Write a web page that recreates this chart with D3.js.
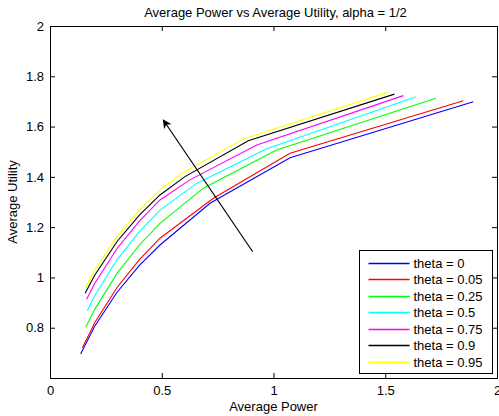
<!DOCTYPE html>
<html>
<head>
<meta charset="utf-8">
<script src="https://cdn.jsdelivr.net/npm/d3@7"></script>
<style>
  body { margin: 0; background: #fff; }
  text { font-family: "Liberation Sans", Arial, sans-serif; fill: #000; }
</style>
</head>
<body>
<div class="main"></div>
<script>
// data
var thetaLabels = ["theta = 0", "theta = 0.05", "theta = 0.25", "theta = 0.5", "theta = 0.75", "theta = 0.9", "theta = 0.95"];
var lineColors = ["#0000ff", "#ff0000", "#00ff00", "#00ffff", "#ff00ff", "#000000", "#ffff00"];

var powerTheta0    = [0.137, 0.2, 0.3, 0.4, 0.492, 0.716, 1.074, 1.894];
var utilityTheta0  = [0.695, 0.806, 0.941, 1.048, 1.129, 1.295, 1.476, 1.699];
var powerTheta005   = [0.145, 0.2, 0.3, 0.4, 0.492, 0.731, 1.074, 1.849];
var utilityTheta005 = [0.720, 0.820, 0.960, 1.071, 1.156, 1.315, 1.494, 1.703];
var powerTheta025   = [0.160, 0.2, 0.3, 0.4, 0.492, 0.686, 1.014, 1.727];
var utilityTheta025 = [0.802, 0.873, 1.016, 1.129, 1.215, 1.355, 1.507, 1.713];
var powerTheta05    = [0.167, 0.2, 0.3, 0.4, 0.492, 0.656, 0.970, 1.638];
var utilityTheta05  = [0.868, 0.927, 1.070, 1.182, 1.268, 1.374, 1.512, 1.719];
var powerTheta075   = [0.164, 0.2, 0.3, 0.4, 0.492, 0.626, 0.925, 1.581];
var utilityTheta075 = [0.913, 0.976, 1.115, 1.224, 1.308, 1.388, 1.527, 1.723];
var powerTheta09    = [0.157, 0.2, 0.3, 0.4, 0.492, 0.604, 0.887, 1.541];
var utilityTheta09  = [0.937, 1.009, 1.143, 1.248, 1.328, 1.401, 1.544, 1.729];
var powerTheta095   = [0.157, 0.2, 0.3, 0.4, 0.492, 0.596, 0.872, 1.514];
var utilityTheta095 = [0.957, 1.029, 1.163, 1.268, 1.348, 1.417, 1.553, 1.737];

var xTicks = [0, 0.5, 1, 1.5, 2];
var yTicks = [0.8, 1, 1.2, 1.4, 1.6, 1.8, 2];
var arrowFrom = [0.907, 1.102];
var arrowTo = [0.507, 1.626];

var powers = [powerTheta0, powerTheta005, powerTheta025, powerTheta05, powerTheta075, powerTheta09, powerTheta095];
var utilities = [utilityTheta0, utilityTheta005, utilityTheta025, utilityTheta05, utilityTheta075, utilityTheta09, utilityTheta095];

var series = thetaLabels.map(function(name, i) {
  return {
    name: name,
    color: lineColors[i],
    points: powers[i].map(function(p, j) { return [p, utilities[i][j]]; })
  };
});

var width = 499, height = 416;
var plotLeft = 50, plotRight = 497, plotTop = 26, plotBottom = 378;
var fontSize = "13px";

var svg = d3.select("div.main").append("svg")
  .attr("width", width)
  .attr("height", height);

var x = d3.scaleLinear().domain([0, 2]).range([plotLeft, plotRight]);
var y = d3.scaleLinear().domain([0.6, 2]).range([plotBottom, plotTop]);

// curves
var line = d3.line()
  .x(function(d) { return x(d[0]); })
  .y(function(d) { return y(d[1]); });

svg.append("g").selectAll("path")
  .data(series)
  .enter().append("path")
  .attr("d", function(d) { return line(d.points); })
  .attr("fill", "none")
  .attr("stroke", function(d) { return d.color; })
  .attr("stroke-width", 1.1);

// arrow
svg.append("defs").append("marker")
  .attr("id", "head")
  .attr("viewBox", "0 0 10 10")
  .attr("refX", 9).attr("refY", 5)
  .attr("markerWidth", 11).attr("markerHeight", 9)
  .attr("markerUnits", "userSpaceOnUse")
  .attr("orient", "auto")
  .append("path")
  .attr("d", "M0,0 L10,5 L0,10 L3,5 Z")
  .attr("fill", "#000");

svg.append("line")
  .attr("x1", x(arrowFrom[0])).attr("y1", y(arrowFrom[1]))
  .attr("x2", x(arrowTo[0])).attr("y2", y(arrowTo[1]))
  .attr("stroke", "#000")
  .attr("stroke-width", 1.2)
  .attr("marker-end", "url(#head)");

// axes (matlab style, ticks inside, box all round)
var xAxis = d3.axisBottom(x).tickValues(xTicks).tickSize(-5).tickPadding(8)
  .tickFormat(d3.format("~g"));
var yAxis = d3.axisLeft(y).tickValues(yTicks).tickSize(-5).tickPadding(6)
  .tickFormat(d3.format("~g"));

var gx = svg.append("g").attr("transform", "translate(0," + plotBottom + ")").call(xAxis);
var gy = svg.append("g").attr("transform", "translate(" + plotLeft + ",0)").call(yAxis);
var gxTop = svg.append("g").attr("transform", "translate(0," + plotTop + ")")
  .call(d3.axisTop(x).tickValues(xTicks).tickSize(-5).tickFormat(""));
var gyRight = svg.append("g").attr("transform", "translate(" + plotRight + ",0)")
  .call(d3.axisRight(y).tickValues(yTicks).tickSize(-5).tickFormat(""));

[gx, gy, gxTop, gyRight].forEach(function(g) {
  g.select(".domain").attr("stroke", "#000").attr("stroke-width", 1);
  g.selectAll(".tick line").attr("stroke", "#000");
  g.selectAll("text").style("font-size", fontSize).style("font-family", "Liberation Sans, Arial, sans-serif");
});

// titles
svg.append("text")
  .attr("x", (plotLeft + plotRight) / 2 + 2)
  .attr("y", 17)
  .attr("text-anchor", "middle")
  .style("font-size", fontSize)
  .text("Average Power vs Average Utility, alpha = 1/2");

svg.append("text")
  .attr("x", (plotLeft + plotRight) / 2)
  .attr("y", 411)
  .attr("text-anchor", "middle")
  .style("font-size", fontSize)
  .text("Average Power");

svg.append("text")
  .attr("transform", "translate(17," + (plotTop + plotBottom) / 2 + ") rotate(-90)")
  .attr("text-anchor", "middle")
  .style("font-size", fontSize)
  .text("Average Utility");

// legend
var legX = 359.5, legY = 250.5, legW = 133, legH = 123, rowH = 16.5;
var legend = svg.append("g");
legend.append("rect")
  .attr("x", legX).attr("y", legY)
  .attr("width", legW).attr("height", legH)
  .attr("fill", "#fff")
  .attr("stroke", "#000");

var rows = legend.selectAll("g.row")
  .data(series)
  .enter().append("g")
  .attr("class", "row")
  .attr("transform", function(d, i) { return "translate(" + legX + "," + Math.round(legY + 12 + i * rowH) + ")"; });

rows.append("line")
  .attr("x1", 9).attr("x2", 50)
  .attr("y1", 0.5).attr("y2", 0.5)
  .attr("stroke", function(d) { return d.color; })
  .attr("stroke-width", 1.4);

rows.append("text")
  .attr("x", 54)
  .attr("dy", "0.35em")
  .style("font-size", fontSize)
  .text(function(d) { return d.name; });
</script>
</body>
</html>
